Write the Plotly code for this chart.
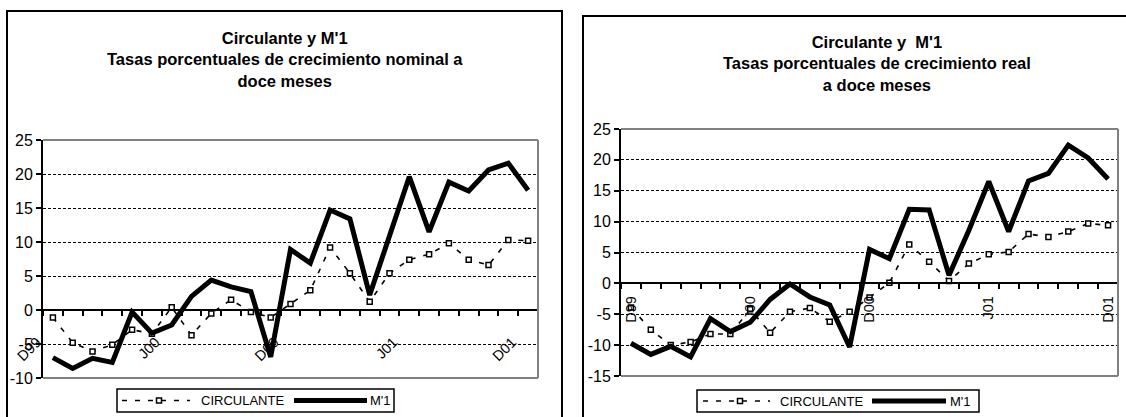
import plotly.graph_objects as go

# Months (Dec 1999 - Dec 2001) and the labels shown on the category axis
meses = ["Dic-99", "Ene-00", "Feb-00", "Mar-00", "Abr-00", "May-00", "Jun-00",
         "Jul-00", "Ago-00", "Sep-00", "Oct-00", "Nov-00", "Dic-00", "Ene-01",
         "Feb-01", "Mar-01", "Abr-01", "May-01", "Jun-01", "Jul-01", "Ago-01",
         "Sep-01", "Oct-01", "Nov-01", "Dic-01"]
etiquetas = ["D99", "", "", "", "", "", "J00", "", "", "", "", "", "D00",
             "", "", "", "", "", "J01", "", "", "", "", "", "D01"]

# Nominal twelve-month growth rates (%)
circ_nominal = [-1.1, -4.8, -6.1, -5.1, -2.9, -3.5, 0.4, -3.7, -0.5, 1.5, -0.3, -1.1,
                0.9, 2.9, 9.2, 5.4, 1.2, 5.4, 7.4, 8.2, 9.8, 7.4, 6.6, 10.3, 10.2]
m1_nominal = [-7.0, -8.6, -7.1, -7.7, -0.3, -3.4, -2.2, 2.0, 4.4, 3.4, 2.7, -6.9,
              8.9, 6.9, 14.7, 13.4, 2.2, 10.7, 19.6, 11.5, 18.8, 17.5, 20.6, 21.6, 17.6]

# Real twelve-month growth rates (%)
circ_real = [-3.9, -7.5, -10.0, -9.5, -8.2, -8.2, -4.2, -8.0, -4.6, -4.0, -6.2, -4.6,
             -2.3, 0.1, 6.3, 3.5, 0.4, 3.2, 4.7, 5.1, 8.0, 7.5, 8.4, 9.7, 9.4]
m1_real = [-9.7, -11.5, -10.2, -11.9, -5.7, -7.8, -6.3, -2.6, -0.1, -2.2, -3.5, -10.3,
           5.5, 4.0, 12.0, 11.9, 1.3, 8.6, 16.5, 8.4, 16.6, 17.8, 22.4, 20.3, 16.9]

# Value-axis ticks (plain hyphen for negatives)
ticks_nominal = [-10, -5, 0, 5, 10, 15, 20, 25]
ticks_real = [-15, -10, -5, 0, 5, 10, 15, 20, 25]

nombres = ["CIRCULANTE", "M'1"]
titulo_nominal = "Circulante y M'1<br>Tasas porcentuales de crecimiento nominal a<br>doce meses"
titulo_real = "Circulante y  M'1<br>Tasas porcentuales de crecimiento real<br>a doce meses"

W, H = 1126, 417
FONT = "Liberation Sans, Arial, sans-serif"


def fx(px):
    return px / W


def fy(px):
    return 1 - px / H


fig = go.Figure()

paneles = [
    # (x axis, y axis, circulante, M'1, y ticks, x px span, y px span, tick angle)
    ("x", "y", circ_nominal, m1_nominal, ticks_nominal, (43, 538), (140, 378), -45),
    ("x2", "y2", circ_real, m1_real, ticks_real, (621, 1118), (129, 376), -90),
]

for i, (xa, ya, circ, m1, yt, xs, ys, ang) in enumerate(paneles):
    fig.add_trace(go.Scatter(
        x=meses, y=circ, name=nombres[0], xaxis=xa, yaxis=ya, mode="lines+markers",
        line=dict(color="black", width=1.6, dash="5px,8px"),
        marker=dict(symbol="square", size=5, color="white",
                    line=dict(color="black", width=1.5)),
        showlegend=False))
    fig.add_trace(go.Scatter(
        x=meses, y=m1, name=nombres[1], xaxis=xa, yaxis=ya, mode="lines",
        line=dict(color="black", width=5), showlegend=False))

    yr = (min(yt), max(yt))
    ydom = [fy(ys[1]), fy(ys[0])]
    xdom = [fx(xs[0]), fx(xs[1])]
    # category axis crosses the value axis at zero
    cero = ydom[0] + (ydom[1] - ydom[0]) * (0 - yr[0]) / (yr[1] - yr[0])
    sufijo = "" if i == 0 else "2"
    fig.layout["xaxis" + sufijo] = dict(
        domain=xdom, anchor="free", position=cero, type="category",
        automargin=False,
        range=[-0.5, len(meses) - 0.5], tickmode="array", tickvals=meses,
        ticktext=etiquetas, tickson="boundaries", ticks="outside", ticklen=5,
        tickwidth=2, tickcolor="black", showline=True, linecolor="black",
        linewidth=2, showgrid=False, zeroline=False, tickangle=ang,
        tickfont=dict(family=FONT, size=14.5, color="black"),
        ticklabelstandoff=17 if ang == -45 else 6,
        ticklabelshift=-16 if ang == -45 else 0)
    fig.layout["yaxis" + sufijo] = dict(
        domain=ydom, anchor=xa, range=list(yr), automargin=False,
        tickmode="array", tickvals=yt, ticktext=[str(v) for v in yt],
        ticks="outside", ticklen=5, tickwidth=2, tickcolor="black",
        showline=True, linecolor="black", linewidth=2, zeroline=False,
        showgrid=True, gridcolor="black", gridwidth=1, griddash="3px,2px",
        tickfont=dict(family=FONT, size=16, color="black"))

    # gray plot-area border (top, right, bottom)
    for (x0, y0, x1, y1) in [(0, 1, 1, 1), (1, 0, 1, 1), (0, 0, 1, 0)]:
        fig.add_shape(type="line", xref=xa + " domain", yref=ya + " domain",
                      x0=x0, y0=y0, x1=x1, y1=y1, layer="above",
                      line=dict(color="#808080", width=2))

# Outer chart frames
fig.add_shape(type="rect", xref="paper", yref="paper", x0=fx(7), x1=fx(562),
              y0=-0.1, y1=fy(11), line=dict(color="black", width=2))
fig.add_shape(type="rect", xref="paper", yref="paper", x0=fx(583), x1=1.1,
              y0=-0.1, y1=fy(16), line=dict(color="black", width=2))

# Titles
fig.add_annotation(x=fx(284.5), y=fy(59), xref="paper", yref="paper",
                   text=titulo_nominal, showarrow=False, xanchor="center",
                   yanchor="middle", font=dict(family=FONT, size=16.5, color="black",
                                               weight="bold"))
fig.add_annotation(x=fx(877), y=fy(64), xref="paper", yref="paper",
                   text=titulo_real, showarrow=False, xanchor="center",
                   yanchor="middle", font=dict(family=FONT, size=16.5, color="black",
                                               weight="bold"))


def leyenda(x0, x1, y0, y1, d0, d1, mk, tx1, l0, l1, tx2):
    yc = (y0 + y1) / 2
    fig.add_shape(type="rect", xref="paper", yref="paper", x0=fx(x0), x1=fx(x1),
                  y0=fy(y1), y1=fy(y0), line=dict(color="black", width=1.5),
                  fillcolor="white")
    fig.add_shape(type="line", xref="paper", yref="paper", x0=fx(d0), x1=fx(d1),
                  y0=fy(yc), y1=fy(yc), line=dict(color="black", width=1.6,
                                                   dash="5px,8px"))
    fig.add_shape(type="rect", xref="paper", yref="paper", x0=fx(mk - 2.5),
                  x1=fx(mk + 2.5), y0=fy(yc + 2.5), y1=fy(yc - 2.5),
                  line=dict(color="black", width=1.5), fillcolor="white")
    fig.add_annotation(x=fx(tx1), y=fy(yc), xref="paper", yref="paper",
                       text=nombres[0], showarrow=False, xanchor="left",
                       yanchor="middle", font=dict(family=FONT, size=13, color="black"))
    fig.add_shape(type="line", xref="paper", yref="paper", x0=fx(l0), x1=fx(l1),
                  y0=fy(yc), y1=fy(yc), line=dict(color="black", width=5))
    fig.add_annotation(x=fx(tx2), y=fy(yc), xref="paper", yref="paper",
                       text=nombres[1], showarrow=False, xanchor="left",
                       yanchor="middle", font=dict(family=FONT, size=13, color="black"))


leyenda(117, 394, 389, 412, 122, 190, 159, 199, 294, 367, 368)
leyenda(697, 979, 390, 412, 703, 770, 740, 778, 872, 946, 948)

fig.update_layout(width=W, height=H, margin=dict(l=0, r=0, t=0, b=0),
                  paper_bgcolor="white", plot_bgcolor="white", showlegend=False)

fig.write_html("out.html")
